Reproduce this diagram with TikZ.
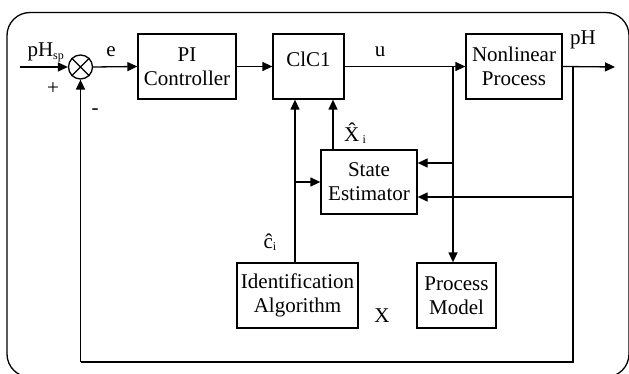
\documentclass[tikz,border=0pt]{standalone}
\usepackage{fontspec}
\setmainfont{Liberation Serif}
\usetikzlibrary{arrows.meta}
\begin{document}
\begin{tikzpicture}[x=1pt,y=-1pt,
  blk/.style={draw,line width=1.3pt,align=center,inner sep=0pt,font=\fontsize{21}{24}\selectfont},
  lbl/.style={inner sep=0pt,font=\fontsize{21}{24}\selectfont},
  conn/.style={line width=1.3pt},
  arr/.style={line width=1.3pt,-{Triangle[length=10pt,width=9pt]}}]
\useasboundingbox (0,0) rectangle (629,374);
\draw[line width=1.3pt,rounded corners=23pt] (7,12.5) rectangle (629,377);
% blocks
\node[blk,minimum width=98pt,minimum height=65pt] (pi) at (187,66.5) {PI\\Controller};
\node[blk,minimum width=71pt,minimum height=65pt] (clc) at (308.5,66.5) {\raisebox{15pt}{ClC1}};
\node[blk,minimum width=96pt,minimum height=65pt] (np) at (514,66.5) {Nonlinear\\Process};
\node[blk,minimum width=96pt,minimum height=64pt] (se) at (369,182) {State\\Estimator};
\node[blk,minimum width=121pt,minimum height=65pt] (ia) at (297.5,295.5) {Identification\\Algorithm};
\node[blk,minimum width=79pt,minimum height=65pt] (pm) at (456.5,295.5) {Process\\Model};
\node[draw,circle,line width=1.3pt,minimum size=24pt,inner sep=0pt] (sum) at (80.5,67) {};
\draw[line width=1.3pt] (sum.north west) -- (sum.south east) (sum.north east) -- (sum.south west);
% coordinates
\coordinate (in) at (20,67);
\coordinate (out) at (615,67);
\coordinate (bu) at (453,67);
\coordinate (bpH) at (573,67);
\coordinate (bb) at (573,362);
\coordinate (bl) at (80.5,362);
% connectors
\draw[arr] (in) -- (sum.west);
\draw[arr] (sum.east) -- (pi.west);
\draw[arr] (pi.east) -- (clc.west);
\draw[arr] (clc.east) -- (np.west);
\draw[arr] (np.east) -- (out);
\draw[arr] (bu) -- (bu |- pm.north);
\draw[arr] (bu |- 0,163) -- (se.east |- 0,163);
\draw[conn] (bpH) -- (bb) -- (bl);
\draw[arr] (bl) -- (sum.south);
\draw[arr] (bpH |- 0,197) -- (se.east |- 0,197);
\draw[arr] (333,0 |- se.north) -- (333,0 |- clc.south);
\draw[arr] (295,0 |- ia.north) -- (295,0 |- clc.south);
\draw[arr] (295,182) -- (se.west |- 0,182);
% labels
\node[lbl] (lsp) at (46,52) {pH\textsubscript{\fontsize{12}{12}\selectfont sp}};
\node[lbl] (le) at (111,52) {e};
\node[lbl] (lu) at (380,52) {u};
\node[lbl] (lph) at (583,40) {pH};
\node[lbl] (lp) at (53,89) {+};
\node[lbl] (lm) at (95,112) {-};
\node[lbl] (lx) at (355,133) {\^X\,\raisebox{-2pt}{\fontsize{12}{12}\selectfont i}};
\node[lbl] (lc) at (270,242) {\^c\raisebox{-2pt}{\fontsize{12}{12}\selectfont i}};
\node[lbl] (lX) at (382,316) {X};
\end{tikzpicture}
\end{document}
